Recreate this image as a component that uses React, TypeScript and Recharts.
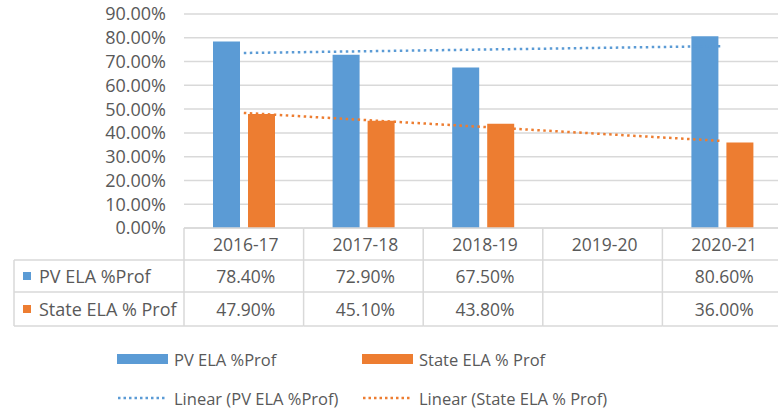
import React from 'react';
import {
  ComposedChart,
  Bar,
  Line,
  XAxis,
  YAxis,
  CartesianGrid,
  Legend,
} from 'recharts';

const categories = ['2016-17', '2017-18', '2018-19', '2019-20', '2020-21'];
const pvValues: (number | null)[] = [78.4, 72.9, 67.5, null, 80.6];
const stateValues: (number | null)[] = [47.9, 45.1, 43.8, null, 36.0];
// trend line end points
const pvTrend: (number | null)[] = [73.6, null, null, null, 76.5];
const stateTrend: (number | null)[] = [48.4, null, null, null, 36.6];
const yTicks = [0, 10, 20, 30, 40, 50, 60, 70, 80, 90];

const seriesNames = {
  pv: 'PV ELA %Prof',
  state: 'State ELA % Prof',
  pvTrend: 'Linear (PV ELA %Prof)',
  stateTrend: 'Linear (State ELA % Prof)',
};

const BLUE = '#5B9BD5';
const ORANGE = '#ED7D31';
const GRID = '#D9D9D9';
const TEXT = '#595959';

const W = 778;
const H = 409;
const LEFT = 184;
// the plot runs a little past the right edge of the picture
const PLOT_W = 598;
const CW = PLOT_W / categories.length;
const ROW_H = [32, 32, 34];

const data = categories.map((year, i) => ({
  year,
  pv: pvValues[i],
  state: stateValues[i],
  pvTrend: pvTrend[i],
  stateTrend: stateTrend[i],
}));

const fmt = (v: number | null) => (v == null ? '' : v.toFixed(2) + '%');

const makeTick = (row: number) => (props: any) => {
  const { x, y, payload, index } = props;
  const h = ROW_H[row];
  let label: string = payload.value;
  if (row === 1) label = fmt(pvValues[index]);
  if (row === 2) label = fmt(stateValues[index]);
  const rowLabel = row === 1 ? seriesNames.pv : row === 2 ? seriesNames.state : '';
  const rowColor = row === 1 ? BLUE : ORANGE;
  return (
    <g>
      <line x1={x - CW / 2} y1={y} x2={x + CW / 2} y2={y} stroke={GRID} strokeWidth={1.5} />
      <line x1={x - CW / 2} y1={y} x2={x - CW / 2} y2={y + h} stroke={GRID} strokeWidth={1.5} />
      {row === 2 && (
        <line x1={x - CW / 2} y1={y + h} x2={x + CW / 2} y2={y + h} stroke={GRID} strokeWidth={1.5} />
      )}
      <text x={x + 2} y={y + h / 2} textAnchor="middle" dominantBaseline="central" fill={TEXT} fontSize={17.5}>
        {label}
      </text>
      {row > 0 && index === 0 && (
        <g>
          <line x1={14} y1={y} x2={LEFT} y2={y} stroke={GRID} strokeWidth={1.5} />
          <line x1={14} y1={y} x2={14} y2={y + h} stroke={GRID} strokeWidth={1.5} />
          {row === 2 && <line x1={14} y1={y + h} x2={LEFT} y2={y + h} stroke={GRID} strokeWidth={1.5} />}
          <rect x={23} y={y + h / 2 - 4} width={8} height={8} fill={rowColor} />
          <text x={39} y={y + h / 2} dominantBaseline="central" fill={TEXT} fontSize={18}>
            {rowLabel}
          </text>
        </g>
      )}
    </g>
  );
};

const renderLegend = (props: any) => {
  const payload: any[] = props.payload || [];
  const order = ['pv', 'state', 'pvTrend', 'stateTrend'];
  const items = order.map((k) => payload.find((p) => p.dataKey === k)).filter(Boolean);
  return (
    <div style={{ display: 'grid', gridTemplateColumns: '245px 300px', paddingLeft: 117, rowGap: 17 }}>
      {items.map((p: any) => {
        const isLine = p.dataKey === 'pvTrend' || p.dataKey === 'stateTrend';
        return (
          <div key={p.dataKey} style={{ display: 'flex', alignItems: 'center', height: 22, color: TEXT, fontSize: 16.5 }}>
            {isLine ? (
              <svg width={51} height={6} style={{ marginRight: 6 }}>
                <line x1={1} y1={3} x2={50} y2={3} stroke={p.color} strokeWidth={2.5} strokeDasharray="2.5 3" />
              </svg>
            ) : (
              <div style={{ width: 51, height: 10, background: p.color, marginRight: 6 }} />
            )}
            <span>{p.value}</span>
          </div>
        );
      })}
    </div>
  );
};

export default function App() {
  return (
    <div style={{ position: 'absolute', left: 0, top: 0, width: W, height: H, overflow: 'hidden', fontFamily: '"Open Sans", sans-serif', background: '#fff' }}>
      <ComposedChart
        width={W}
        height={H}
        data={data}
        margin={{ top: 14, right: W - LEFT - PLOT_W, left: 0, bottom: 13 }}
        barSize={27}
        barGap={8}
      >
        <CartesianGrid vertical={false} stroke={GRID} strokeWidth={1.5} />
        <YAxis
          width={LEFT}
          domain={[0, 90]}
          ticks={yTicks}
          tickFormatter={(v: number) => v.toFixed(2) + '%'}
          axisLine={false}
          tickLine={false}
          tickMargin={12}
          tick={{ fill: TEXT, fontSize: 18 }}
          interval={0}
        />
        <XAxis xAxisId={0} dataKey="year" height={ROW_H[0]} axisLine={false} tickLine={false} tickSize={0} tickMargin={0} interval={0} tick={makeTick(0)} />
        <XAxis xAxisId={1} dataKey="year" height={ROW_H[1]} axisLine={false} tickLine={false} tickSize={0} tickMargin={0} interval={0} tick={makeTick(1)} />
        <XAxis xAxisId={2} dataKey="year" height={ROW_H[2]} axisLine={false} tickLine={false} tickSize={0} tickMargin={0} interval={0} tick={makeTick(2)} />
        <Line
          xAxisId={0}
          type="linear"
          dataKey="pvTrend"
          name={seriesNames.pvTrend}
          stroke={BLUE}
          strokeWidth={2.5}
          strokeDasharray="2.5 3.5"
          dot={false}
          activeDot={false}
          connectNulls
          isAnimationActive={false}
        />
        <Line
          xAxisId={0}
          type="linear"
          dataKey="stateTrend"
          name={seriesNames.stateTrend}
          stroke={ORANGE}
          strokeWidth={2.5}
          strokeDasharray="2.5 3.5"
          dot={false}
          activeDot={false}
          connectNulls
          isAnimationActive={false}
        />
        <Bar xAxisId={0} dataKey="pv" name={seriesNames.pv} fill={BLUE} isAnimationActive={false} />
        <Bar xAxisId={0} dataKey="state" name={seriesNames.state} fill={ORANGE} isAnimationActive={false} />
        <Legend verticalAlign="bottom" height={70} wrapperStyle={{ left: 0, top: 348, width: W }} content={renderLegend} />
      </ComposedChart>
    </div>
  );
}
